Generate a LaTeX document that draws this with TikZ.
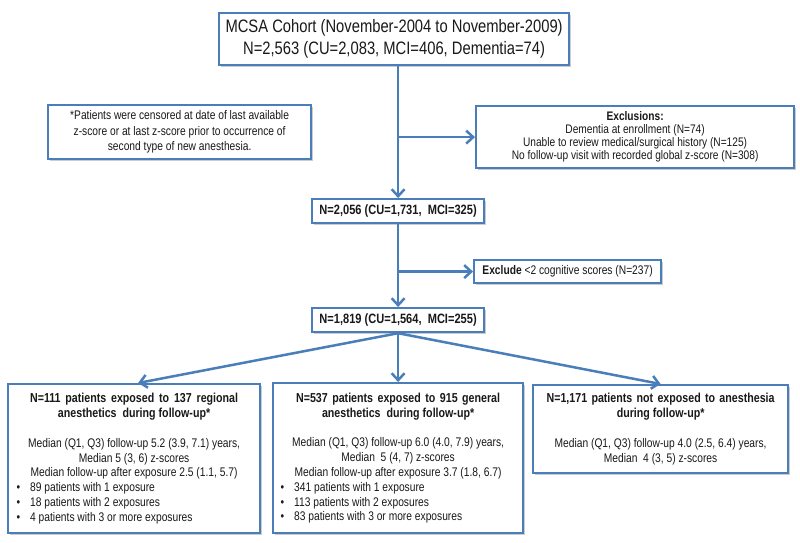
\documentclass[tikz,border=0pt]{standalone}
\usepackage{fontspec}
\setmainfont{Liberation Sans}[FakeStretch=0.82]
\usetikzlibrary{arrows.meta,shadows}
\definecolor{myblue}{RGB}{74,126,187}
\definecolor{txt}{RGB}{25,25,25}
\newcommand\fsz[2]{\fontsize{#1}{#2}\selectfont}
\newcommand\ttl[1]{{\bfseries\fsz{13}{15}#1}}
\newcommand\bul[1]{\makebox[236pt][l]{\hspace{0.5pt}\textbullet\hspace{10pt}#1}}
\begin{document}
\begin{tikzpicture}[x={(1pt,0)}, y={(0,-1pt)},
  box/.style={draw=myblue, line width=2.2pt, fill=white, inner sep=0pt, align=center,
    anchor=north west, text=txt,
    drop shadow={shadow xshift=2pt, shadow yshift=-2pt, fill=black, opacity=0.2}},
  arr/.style={draw=myblue, line width=2.5pt, -{Straight Barb[length=7pt,width=13pt]}}]
\useasboundingbox (0,0) rectangle (800,542);
\fill[white] (0,0) rectangle (800,542);

\node[box, minimum width=350pt, minimum height=52pt, font=\fsz{18}{22}] (top) at (218,12)
  {MCSA Cohort (November-2004 to November-2009)\\N=2,563 (CU=2,083, MCI=406, Dementia=74)};

\node[box, minimum width=263pt, minimum height=54pt, font=\fsz{12.5}{15.5}] (note) at (47,104)
  {*Patients were censored at date of last available\\z-score or at last z-score prior to occurrence of\\second type of new anesthesia.};

\node[box, minimum width=318pt, minimum height=62pt, font=\fsz{12.4}{13}] (excl) at (475,105)
  {\textbf{Exclusions:}\\Dementia at enrollment (N=74)\\Unable to review medical/surgical history (N=125)\\No follow-up visit with recorded global z-score (N=308)};

\node[box, minimum width=172pt, minimum height=24pt, font=\bfseries\fsz{13.5}{16}] (n2) at (311,198)
  {N=2,056 (CU=1,731,\ \ MCI=325)};

\node[box, minimum width=187pt, minimum height=23pt, font=\fsz{12.5}{15}] (exc2) at (473,259)
  {\textbf{Exclude} <2 cognitive scores (N=237)};

\node[box, minimum width=172pt, minimum height=24pt, font=\bfseries\fsz{13.5}{16}] (n3) at (311,307)
  {N=1,819 (CU=1,564,\ \ MCI=255)};

\node[box, minimum width=252pt, minimum height=149pt, font=\fsz{12.5}{14.8}] (reg) at (7,383)
  {\ttl{\makebox[208pt][s]{N=111 patients exposed to 137 regional}}\\
   \ttl{anesthetics\ \ during follow-up*}\\[15pt]
   Median (Q1, Q3) follow-up 5.2 (3.9, 7.1) years,\\
   Median 5 (3, 6) z-scores\\
   Median follow-up after exposure 2.5 (1.1, 5.7)\\
   \bul{89 patients with 1 exposure}\\
   \bul{18 patients with 2 exposures}\\
   \bul{4 patients with 3 or more exposures}};

\node[box, minimum width=250pt, minimum height=150pt, font=\fsz{12.5}{14.8}] (gen) at (272,382)
  {\ttl{\makebox[204pt][s]{N=537 patients exposed to 915 general}}\\
   \ttl{anesthetics\ \ during follow-up*}\\[15pt]
   Median (Q1, Q3) follow-up 6.0 (4.0, 7.9) years,\\
   Median\ \ 5 (4, 7) z-scores\\
   Median follow-up after exposure 3.7 (1.8, 6.7)\\
   \bul{341 patients with 1 exposure}\\
   \bul{113 patients with 2 exposures}\\
   \bul{83 patients with 3 or more exposures}};

\node[box, minimum width=255pt, minimum height=88pt, font=\fsz{12.5}{14.8}] (none) at (532,384)
  {\ttl{\makebox[228pt][s]{N=1,171 patients not exposed to anesthesia}}\\
   \ttl{during follow-up*}\\[15pt]
   Median (Q1, Q3) follow-up 4.0 (2.5, 6.4) years,\\
   Median\ \ 4 (3, 5) z-scores};

\draw[arr] (top.south -| n2.north) -- (n2.north);
\draw[arr] (excl.west -| n2.north) -- (excl.west);
\draw[arr] (n2.south) -- (n3.north);
\draw[arr] (exc2.west -| n2.south) -- (exc2.west);
\draw[arr] (n3.south) -- ([xshift=4pt]reg.north);
\draw[arr] (n3.south) -- (gen.north);
\draw[arr] (n3.south) -- (none.north);
\end{tikzpicture}
\end{document}
